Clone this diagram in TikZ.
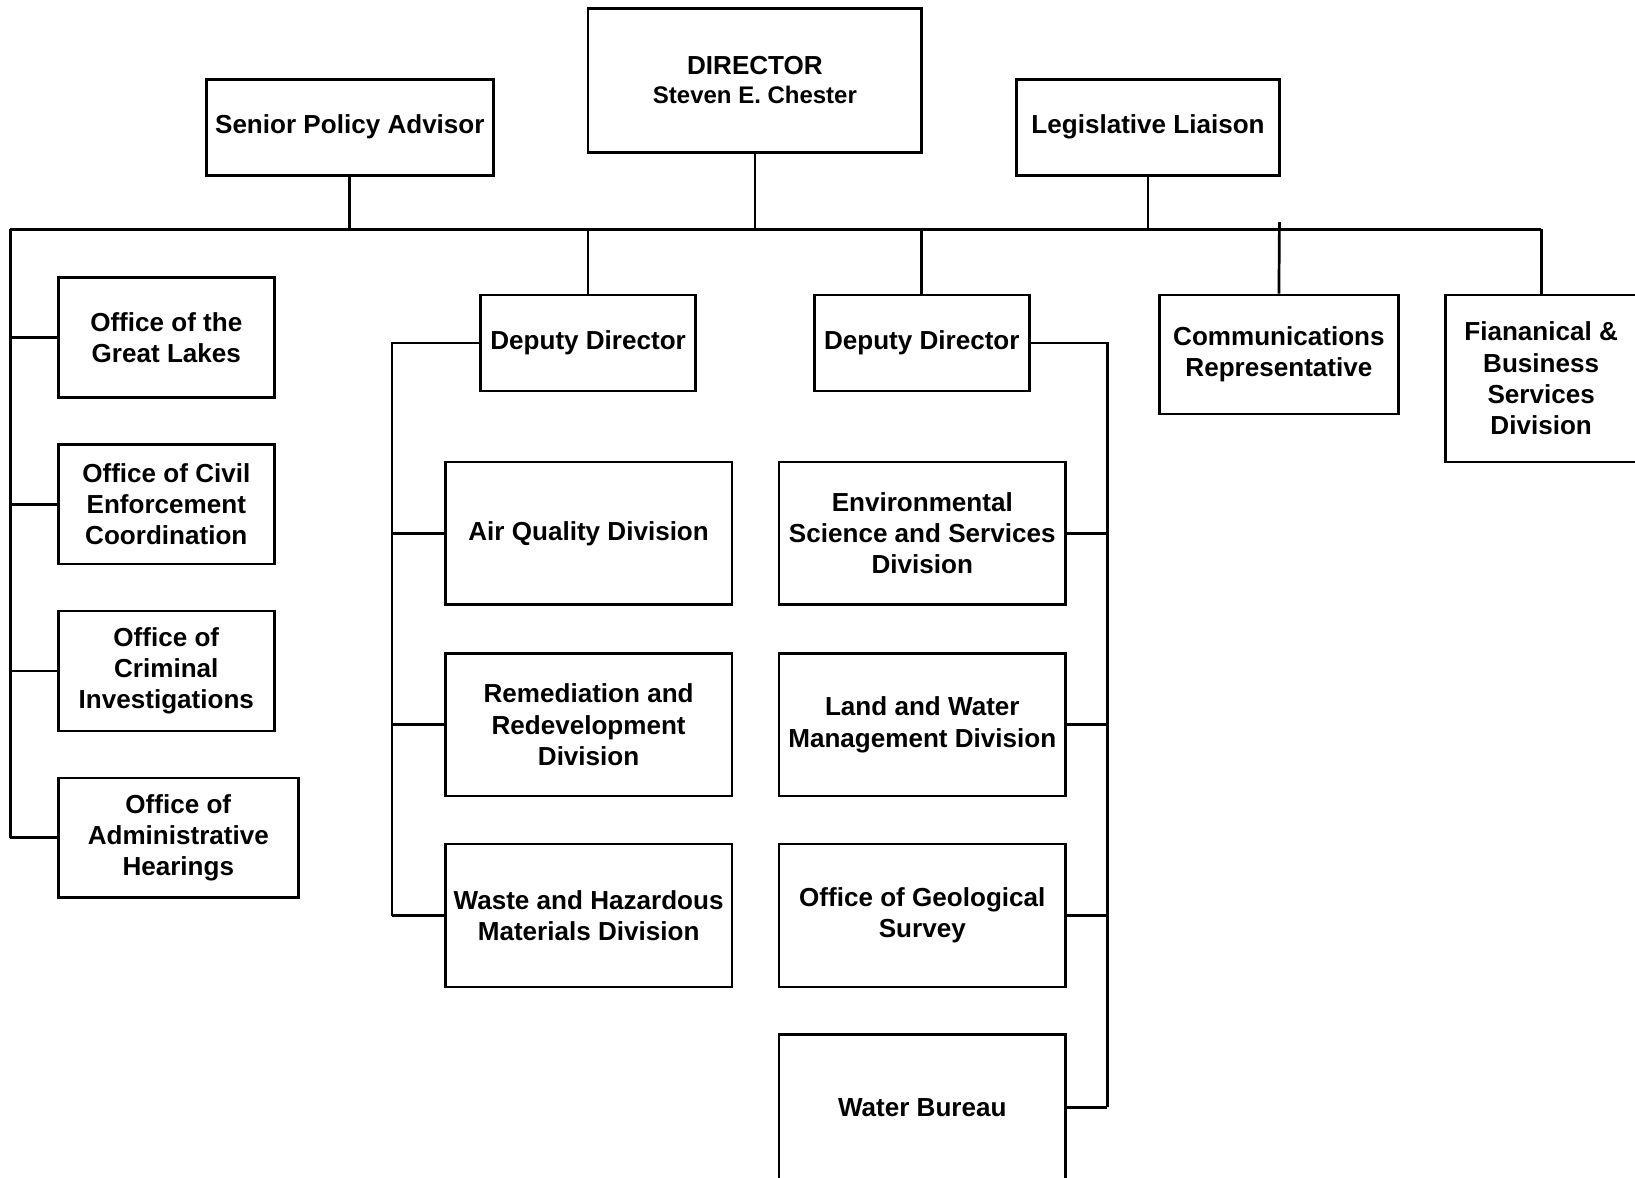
\documentclass[tikz,border=0pt]{standalone}
\usepackage{fontspec}
\setmainfont{Liberation Sans}
\begin{document}
\begin{tikzpicture}[x=1pt,y=-1pt,
  every path/.style={line width=2.6pt},
  box/.style={draw,line width=2.6pt,align=center,inner sep=2pt,
    font=\bfseries\fontsize{25}{30}\selectfont},
  wire/.style={line width=2.6pt}]
\useasboundingbox (0,0) rectangle (1568,1129);
% top row
\node[box,minimum width=320,minimum height=138] (dir) at (724,77)
  {DIRECTOR\\[-2pt]{\fontsize{23}{28}\selectfont Steven E. Chester}};
\node[box,minimum width=275,minimum height=92] (spa) at (335.5,122) {Senior Policy Advisor};
\node[box,minimum width=252,minimum height=92] (leg) at (1101,122) {Legislative Liaison};
% second row
\node[box,minimum width=206,minimum height=92] (dd1) at (564,329) {Deputy Director};
\node[box,minimum width=206,minimum height=92] (dd2) at (884,329) {Deputy Director};
\node[box,minimum width=229,minimum height=114] (com) at (1226.5,340) {Communications\\Representative};
\node[box,minimum width=184,minimum height=160] (fin) at (1478,363) {Fiananical \&\\Business\\Services\\Division};
% left column
\node[box,minimum width=207,minimum height=115] (gl) at (159.5,323.5) {Office of the\\Great Lakes};
\node[box,minimum width=207,minimum height=115] (ce) at (159.5,483.5) {Office of Civil\\Enforcement\\Coordination};
\node[box,minimum width=207,minimum height=115] (ci) at (159.5,643.5) {Office of\\Criminal\\Investigations};
\node[box,minimum width=230,minimum height=115] (ah) at (171,803.5) {Office of\\Administrative\\Hearings};
% middle column
\node[box,minimum width=275,minimum height=137] (aq) at (564.5,511.5) {Air Quality Division};
\node[box,minimum width=275,minimum height=137] (rr) at (564.5,695) {Remediation and\\Redevelopment\\Division};
\node[box,minimum width=275,minimum height=137] (wh) at (564.5,878) {Waste and Hazardous\\Materials Division};
% right column
\node[box,minimum width=275,minimum height=137] (es) at (884.5,511.5) {Environmental\\Science and Services\\Division};
\node[box,minimum width=275,minimum height=137] (lw) at (884.5,695) {Land and Water\\Management Division};
\node[box,minimum width=275,minimum height=137] (gs) at (884.5,878) {Office of Geological\\Survey};
\node[box,minimum width=275,minimum height=140] (wb) at (884.5,1062) {Water Bureau};
% connectors
\coordinate (busL) at (10,220);
\coordinate (busR) at (1478,220);
\coordinate (tick) at (1227,213);
\coordinate (s1) at (376,0);
\coordinate (s2) at (1062,0);
\draw[wire] (busL) -- (busR);
\draw[wire] (spa.south) -- (spa.south |- busL);
\draw[wire] (dir.south) -- (dir.south |- busL);
\draw[wire] (leg.south) -- (leg.south |- busL);
\draw[wire] (dd1.north) -- (dd1.north |- busL);
\draw[wire] (dd2.north) -- (dd2.north |- busL);
\draw[wire] (com.north) -- (tick);
\draw[wire] (fin.north) -- (busR);
% left spine
\draw[wire] (busL) -- (busL |- ah.west);
\foreach \n in {gl,ce,ci,ah} \draw[wire] (\n.west) -- (\n.west -| busL);
% deputy 1 spine
\draw[wire] (dd1.west) -| (s1 |- wh.west);
\foreach \n in {aq,rr,wh} \draw[wire] (\n.west) -- (\n.west -| s1);
% deputy 2 spine
\draw[wire] (dd2.east) -| (s2 |- wb.east);
\foreach \n in {es,lw,gs,wb} \draw[wire] (\n.east) -- (\n.east -| s2);
\end{tikzpicture}
\end{document}
